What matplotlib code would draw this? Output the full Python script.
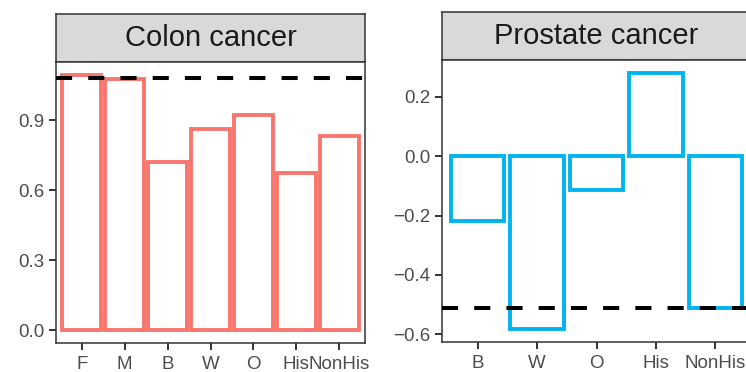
import numpy as np
import matplotlib.pyplot as plt

plt.rcParams['font.family'] = ['Liberation Sans', 'DejaVu Sans']

# Colon cancer panel
colon_groups = ["F", "M", "B", "W", "O", "His", "NonHis"]
colon_values = [1.095, 1.077, 0.719, 0.864, 0.923, 0.672, 0.832]
colon_ref = 1.082

# Prostate cancer panel
prostate_groups = ["B", "W", "O", "His", "NonHis"]
prostate_values = [-0.219, -0.582, -0.113, 0.281, -0.513]
prostate_ref = -0.511

colon_ticks = [0.0, 0.3, 0.6, 0.9]
prostate_ticks = [-0.6, -0.4, -0.2, 0.0, 0.2]

W, H = 746, 372
fig = plt.figure(figsize=(W / 100, H / 100), dpi=100)
fig.patch.set_facecolor("white")


def px_axes(x0, x1, top, bottom):
    return fig.add_axes([x0 / W, (H - bottom) / H, (x1 - x0) / W, (bottom - top) / H])


def panel(x0, x1, strip_top, strip_bot, bottom, groups, values, ref, color, ticks, title):
    # strip
    sa = px_axes(x0, x1, strip_top, strip_bot)
    sa.set_facecolor("#D9D9D9")
    sa.set_xticks([])
    sa.set_yticks([])
    for s in sa.spines.values():
        s.set_color("#333333")
        s.set_linewidth(1.1)
    sa.text(0.5, 0.5, title, ha="center", va="center", fontsize=21,
            color="#1A1A1A", transform=sa.transAxes)

    ax = px_axes(x0, x1, strip_bot, bottom)
    x = np.arange(1, len(groups) + 1)
    ax.bar(x, values, width=0.9, facecolor="white", edgecolor=color,
           linewidth=2.8, zorder=2)
    ax.axhline(ref, color="black", linewidth=2.9, linestyle=(0, (4, 4)), zorder=3)

    lo = min(0, min(values))
    hi = max(0, max(values))
    pad = 0.05 * (hi - lo)
    ax.set_ylim(lo - pad, hi + pad)
    ax.set_xlim(0.4, len(groups) + 0.6)

    ax.set_xticks(x)
    ax.set_xticklabels(groups)
    ax.set_yticks(ticks)
    ax.set_yticklabels([f"{t:.1f}".replace("-", "\u2212") for t in ticks])
    ax.tick_params(axis="both", colors="#333333", labelcolor="#4D4D4D",
                   labelsize=13.5, width=1.4, length=5)
    ax.tick_params(axis="y", pad=3.5)
    ax.tick_params(axis="x", pad=4.5)
    for s in ax.spines.values():
        s.set_color("#333333")
        s.set_linewidth(1.1)
    return ax


panel(56, 365, 13.5, 62, 343, colon_groups, colon_values, colon_ref,
      "#F8766D", colon_ticks, "Colon cancer")
panel(442, 751, 12, 60, 341.7, prostate_groups, prostate_values, prostate_ref,
      "#00B5EF", prostate_ticks, "Prostate cancer")

fig.savefig("out.png", dpi=100)
